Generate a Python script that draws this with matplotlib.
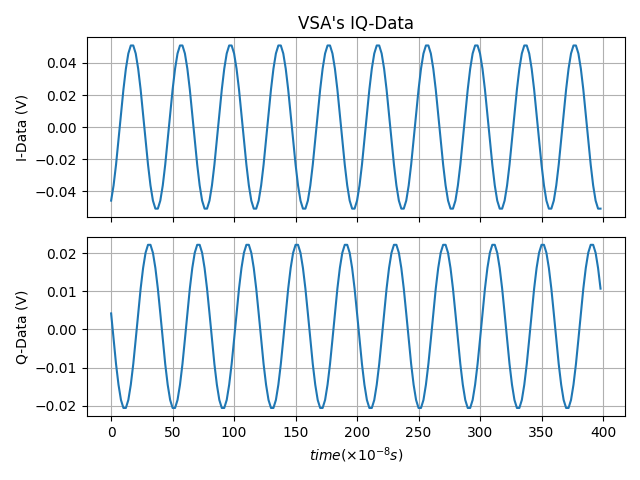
import matplotlib
matplotlib.use("Agg")
import matplotlib.pyplot as plt
import numpy as np

# one period (20 samples, step 2); the signal repeats 10 times
i_period = [-0.0459, -0.0364, -0.0234, -0.0080, 0.0080, 0.0234, 0.0364, 0.0459, 0.0509, 0.0509,
            0.0459, 0.0364, 0.0234, 0.0080, -0.0080, -0.0234, -0.0364, -0.0459, -0.0509, -0.0509]
q_period = [0.0042, -0.0026, -0.0091, -0.0145, -0.0185, -0.0206, -0.0206, -0.0185, -0.0145, -0.0091,
            -0.0026, 0.0042, 0.0107, 0.0161, 0.0201, 0.0222, 0.0222, 0.0201, 0.0161, 0.0107]
n_periods = 10
time = np.arange(0, 400, 2)
i_data = np.array(i_period * n_periods)
q_data = np.array(q_period * n_periods)

fig, (ax1, ax2) = plt.subplots(2, 1, sharex=True, figsize=(6.4, 4.8), dpi=100)
ax1.plot(time, i_data)
ax1.set_title("VSA's IQ-Data")
ax1.set_ylabel("I-Data (V)")
ax1.grid(True)

ax2.plot(time, q_data)
ax2.set_ylabel("Q-Data (V)")
ax2.set_xlabel(r"$time(\times10^{-8}s)$")
ax2.grid(True)

plt.tight_layout()
plt.savefig("out.png")
